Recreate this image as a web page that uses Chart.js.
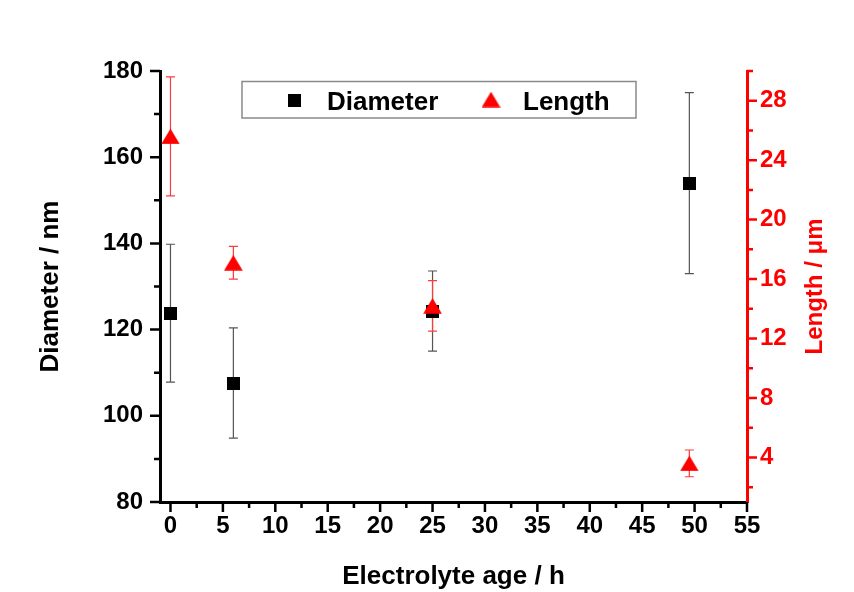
<!DOCTYPE html>
<html>
<head>
<meta charset="utf-8">
<script src="https://cdn.jsdelivr.net/npm/chart.js@4.4.1/dist/chart.umd.min.js"></script>
<style>
    html, body { margin: 0; padding: 0; background: #fff; }
    #wrap { width: 854px; height: 592px; }
</style>
</head>
<body>
<div id="wrap"><canvas id="age_chart" width="854" height="592"></canvas></div>
<script>
// values
const ageH = [0, 6, 25, 49.5];
const diameterNm = [123.8, 107.6, 124.3, 154.0];
const diameterErr = [16.0, 12.8, 9.3, 21.0];
const lengthUm = [25.6, 17.1, 14.2, 3.6];
const lengthErr = [4.0, 1.1, 1.7, 0.9];

const xTicks = [0, 5, 10, 15, 20, 25, 30, 35, 40, 45, 50, 55];
const diameterTicks = [80, 100, 120, 140, 160, 180];
const lengthTicks = [4, 8, 12, 16, 20, 24, 28];

const FONT = "'Liberation Sans', Arial, sans-serif";
const RED = '#ff0000';

function markerCanvas(kind)
{
    const c = document.createElement('canvas');
    const g = c.getContext('2d');
    if (kind === 'square') {
        c.width = 13; c.height = 13;
        g.fillStyle = '#000';
        g.fillRect(0, 0, 13, 13);
    } else {
        c.width = 19; c.height = 16;
        g.fillStyle = RED;
        g.beginPath();
        g.moveTo(9.5, 0.3);
        g.lineTo(18.8, 15.7);
        g.lineTo(0.2, 15.7);
        g.closePath();
        g.fill();
    }
    return c;
}
const squareMark = markerCanvas('square');
const triangleMark = markerCanvas('triangle');

function drawErrorBars(ctx, xs, ys, vals, errs, color)
{
    ctx.save();
    ctx.strokeStyle = color;
    ctx.lineWidth = 1.2;
    ageH.forEach((a, i) => {
        const px = xs.getPixelForValue(a);
        const top = ys.getPixelForValue(vals[i] + errs[i]);
        const bot = ys.getPixelForValue(vals[i] - errs[i]);
        ctx.beginPath();
        ctx.moveTo(px, top); ctx.lineTo(px, bot);
        ctx.moveTo(px - 4.5, top); ctx.lineTo(px + 4.5, top);
        ctx.moveTo(px - 4.5, bot); ctx.lineTo(px + 4.5, bot);
        ctx.stroke();
    });
    ctx.restore();
}

const errorBars = {
    id: 'errorBars',
    beforeDatasetsDraw(chart) {
        const s = chart.scales;
        drawErrorBars(chart.ctx, s.x, s.y, diameterNm, diameterErr, '#555555');
        drawErrorBars(chart.ctx, s.x, s.y2, lengthUm, lengthErr, '#ff3a3a');
    }
};

// Origin style outward ticks, major and minor
function tickMarks(ctx, scale, values, len, color, side)
{
    ctx.save();
    ctx.strokeStyle = color;
    ctx.lineWidth = 2.5;
    ctx.beginPath();
    values.forEach(v => {
        const p = scale.getPixelForValue(v);
        if (side === 'bottom') {
            ctx.moveTo(p, scale.top); ctx.lineTo(p, scale.top + len);
        } else if (side === 'left') {
            ctx.moveTo(scale.right, p); ctx.lineTo(scale.right - len, p);
        } else {
            ctx.moveTo(scale.left, p); ctx.lineTo(scale.left + len, p);
        }
    });
    ctx.stroke();
    ctx.restore();
}

const axisDecor = {
    id: 'axisDecor',
    afterDraw(chart) {
        const ctx = chart.ctx;
        const s = chart.scales;
        const area = chart.chartArea;

        tickMarks(ctx, s.x, xTicks, 10, '#000', 'bottom');
        tickMarks(ctx, s.x, xTicks.slice(0, -1).map(v => v + 2.5), 6, '#000', 'bottom');
        tickMarks(ctx, s.y, diameterTicks, 10, '#000', 'left');
        tickMarks(ctx, s.y, diameterTicks.slice(0, -1).map(v => v + 10), 6, '#000', 'left');
        tickMarks(ctx, s.y2, lengthTicks, 10, RED, 'right');
        tickMarks(ctx, s.y2, [2].concat(lengthTicks.map(v => v + 2)), 6, RED, 'right');

        // right axis title reads bottom to top, like the left one
        ctx.save();
        ctx.translate(815, (area.top + area.bottom) / 2);
        ctx.rotate(-Math.PI / 2);
        ctx.fillStyle = RED;
        ctx.font = 'bold 24px ' + FONT;
        ctx.textAlign = 'center';
        ctx.textBaseline = 'middle';
        ctx.fillText('Length / \u03bcm', 0, 0);
        ctx.restore();

        // legend box
        const ds = chart.data.datasets;
        ctx.save();
        ctx.strokeStyle = '#8a8a8a';
        ctx.lineWidth = 1.5;
        ctx.strokeRect(242, 81.5, 394, 36.5);
        ctx.drawImage(squareMark, 294 - 6.5, 100 - 6.5);
        ctx.drawImage(triangleMark, 491 - 9.5, 99.5 - 8);
        ctx.fillStyle = '#000';
        ctx.font = 'bold 26px ' + FONT;
        ctx.textBaseline = 'alphabetic';
        ctx.fillText(ds[0].label, 327, 110);
        ctx.fillText(ds[1].label, 523, 110);
        ctx.restore();
    }
};

(function age_chart()
{
    const sample = document.getElementById('age_chart');
    const tickFont = { family: FONT, size: 24, weight: 'bold' };
    const myChart = new Chart(sample, {
        type: 'scatter',
        data: {
            datasets: [{
                label: 'Diameter',
                data: ageH.map((a, i) => ({ x: a, y: diameterNm[i] })),
                yAxisID: 'y',
                pointStyle: squareMark,
                pointRadius: 7,
                order: 1
            }, {
                label: 'Length',
                data: ageH.map((a, i) => ({ x: a, y: lengthUm[i] })),
                yAxisID: 'y2',
                pointStyle: triangleMark,
                pointRadius: 8,
                order: 0
            }]
        },
        options: {
            responsive: false,
            animation: false,
            events: [],
            layout: { padding: { top: 71, left: 0, right: 0, bottom: 0 } },
            plugins: {
                legend: { display: false },
                tooltip: { enabled: false }
            },
            scales: {
                x: {
                    type: 'linear',
                    min: -1,
                    max: 55,
                    afterBuildTicks: s => { s.ticks = xTicks.map(v => ({ value: v })); },
                    afterFit: s => { s.height = 90; },
                    grid: { drawOnChartArea: false, drawTicks: false },
                    border: { color: '#000', width: 3 },
                    ticks: { font: tickFont, color: '#000', padding: 10, autoSkip: false, maxRotation: 0 },
                    title: {
                        display: true,
                        text: 'Electrolyte age / h',
                        color: '#000',
                        font: { family: FONT, size: 26, weight: 'bold' },
                        padding: { top: 0, bottom: 0 }
                    }
                },
                y: {
                    type: 'linear',
                    position: 'left',
                    min: 80,
                    max: 180,
                    afterBuildTicks: s => { s.ticks = diameterTicks.map(v => ({ value: v })); },
                    afterFit: s => { s.width = 160; },
                    grid: { drawOnChartArea: false, drawTicks: false },
                    border: { color: '#000', width: 3 },
                    ticks: { font: tickFont, color: '#000', padding: 17 },
                    title: {
                        display: true,
                        text: 'Diameter / nm',
                        color: '#000',
                        font: { family: FONT, size: 26, weight: 'bold' },
                        padding: { top: 35, bottom: 0 }
                    }
                },
                y2: {
                    type: 'linear',
                    position: 'right',
                    min: 1,
                    max: 30,
                    afterBuildTicks: s => { s.ticks = lengthTicks.map(v => ({ value: v })); },
                    afterFit: s => { s.width = 107; },
                    grid: { drawOnChartArea: false, drawTicks: false },
                    border: { color: RED, width: 3 },
                    ticks: { font: tickFont, color: RED, padding: 13 }
                }
            }
        },
        plugins: [errorBars, axisDecor]
    });
})();
</script>
</body>
</html>
